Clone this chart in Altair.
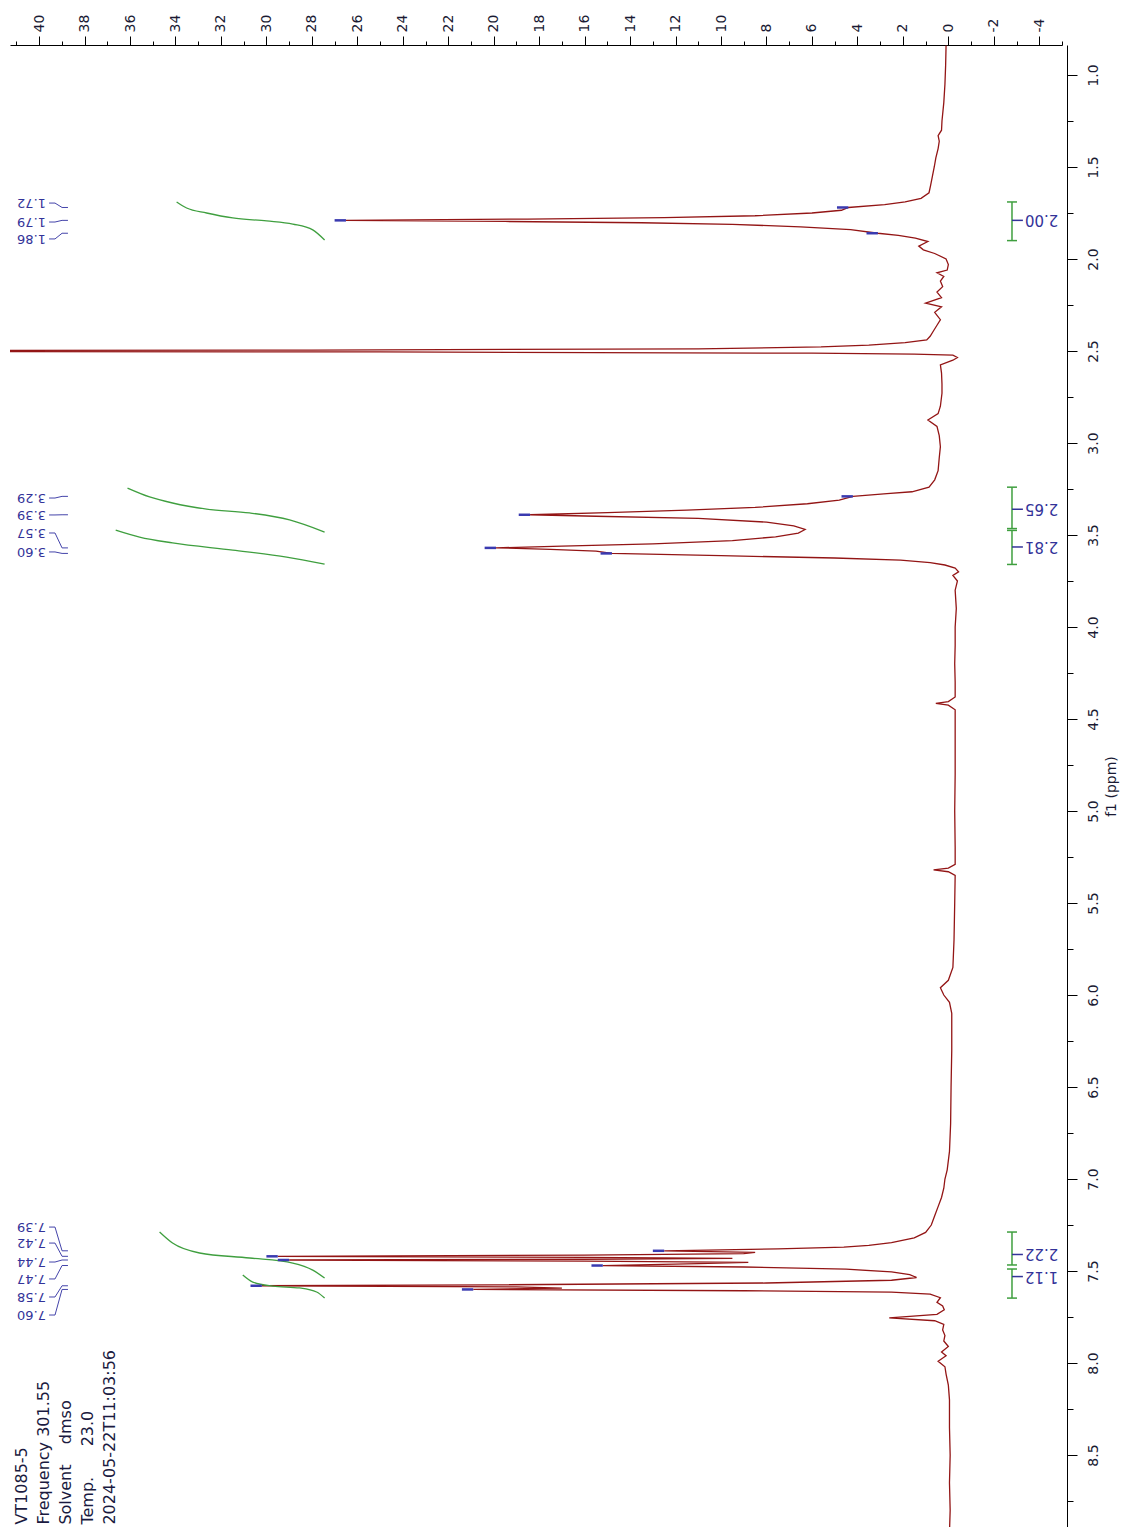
import altair as alt
import pandas as pd

# ---------------- data ----------------
spec_ppm = [0.84, 0.95, 1.05, 1.15, 1.25, 1.30, 1.33, 1.36, 1.40, 1.45, 1.50, 1.55, 1.60, 1.64, 1.67,
            1.69, 1.705, 1.72, 1.735, 1.75, 1.765, 1.775, 1.783, 1.79, 1.796, 1.803, 1.812, 1.825, 1.84,
            1.86, 1.872, 1.886, 1.905, 1.93, 1.95, 1.97, 2.00, 2.03, 2.06, 2.075, 2.095, 2.12, 2.15, 2.18,
            2.21, 2.24, 2.26, 2.29, 2.33, 2.36, 2.39, 2.42, 2.44, 2.455, 2.468, 2.478, 2.488, 2.495, 2.50,
            2.505, 2.512, 2.517, 2.522, 2.535, 2.55, 2.575, 2.62, 2.68, 2.73, 2.80, 2.84, 2.875, 2.91,
            2.96, 3.02, 3.08, 3.15, 3.20, 3.24, 3.265, 3.275, 3.29, 3.31, 3.33, 3.35, 3.365, 3.378, 3.39,
            3.398, 3.41, 3.43, 3.45, 3.47, 3.49, 3.51, 3.53, 3.548, 3.56, 3.57, 3.578, 3.588, 3.60, 3.612,
            3.625, 3.637, 3.65, 3.663, 3.68, 3.70, 3.72, 3.75, 3.80, 3.90, 4.00, 4.10, 4.20, 4.30, 4.38,
            4.405, 4.415, 4.425, 4.45, 4.60, 4.80, 5.00, 5.20, 5.29, 5.31, 5.32, 5.33, 5.35, 5.50, 5.70,
            5.85, 5.92, 5.96, 6.00, 6.04, 6.10, 6.30, 6.50, 6.70, 6.85, 6.95, 7.00, 7.05, 7.10, 7.15, 7.20,
            7.25, 7.29, 7.32, 7.345, 7.36, 7.37, 7.38, 7.39, 7.398, 7.405, 7.413, 7.42, 7.426, 7.431,
            7.436, 7.44, 7.446, 7.453, 7.46, 7.47, 7.478, 7.49, 7.505, 7.52, 7.535, 7.55, 7.565, 7.575,
            7.58, 7.586, 7.593, 7.60, 7.607, 7.615, 7.625, 7.645, 7.67, 7.69, 7.71, 7.735, 7.755, 7.77,
            7.79, 7.82, 7.85, 7.88, 7.91, 7.94, 7.96, 7.99, 8.02, 8.06, 8.12, 8.20, 8.35, 8.50, 8.65,
            8.80, 8.92]
spec_int = [0.10, 0.12, 0.15, 0.20, 0.28, 0.30, 0.45, 0.40, 0.45, 0.55, 0.62, 0.70, 0.78, 0.85, 1.2,
            1.9, 2.8, 4.4, 4.7, 6.0, 8.5, 12.5, 18.5, 26.5, 19.5, 13.5, 9.5, 6.5, 4.3,
            3.1, 2.2, 1.45, 0.9, 1.3, 1.1, 0.6, 0.1, 0.0, 0.05, 0.5, 0.2, 0.35, 0.25, 0.5,
            0.3, 1.0, 0.3, 0.6, 0.35, 0.5, 0.65, 0.8, 0.95, 1.9, 3.5, 5.6, 11.0, 28.0, 70.0,
            25.0, 6.0, 1.5, -0.2, -0.4, -0.2, 0.35, 0.3, 0.28, 0.28, 0.35, 0.45, 0.9, 0.5,
            0.4, 0.35, 0.4, 0.45, 0.6, 0.85, 1.6, 2.7, 4.2, 4.8, 6.2, 8.5, 11.5, 15.0, 18.4,
            15.5, 11.0, 8.0, 6.8, 6.3, 6.6, 7.6, 9.5, 13.0, 17.0, 19.9, 17.5, 15.5, 14.8, 10.0,
            5.0, 2.1, 0.8, 0.15, -0.3, -0.45, -0.2, -0.4, -0.3, -0.35, -0.3, -0.3, -0.28, -0.3, -0.3,
            0.0, 0.55, 0.0, -0.3, -0.3, -0.3, -0.28, -0.3, -0.3, 0.0, 0.65, 0.0, -0.3, -0.28, -0.25,
            -0.2, 0.0, 0.35, 0.2, -0.05, -0.15, -0.15, -0.12, -0.1, -0.05, 0.05, 0.15, 0.2, 0.3, 0.45, 0.6,
            0.75, 1.0, 1.5, 2.5, 3.5, 4.6, 7.5, 12.5, 8.5, 9.0, 16.0, 29.5, 16.0, 9.5,
            16.0, 29.0, 16.0, 8.8, 11.0, 15.2, 9.0, 4.5, 2.5, 1.7, 1.4, 2.5, 8.0, 20.0,
            30.2, 19.0, 17.0, 20.9, 9.0, 2.5, 0.8, 0.35, 0.5, 0.25, 0.18, 0.5, 2.6, 0.6,
            0.2, 0.25, 0.15, 0.2, 0.0, 0.3, 0.1, 0.45, 0.15, 0.1, 0.0, -0.05, -0.05, -0.08, -0.05,
            -0.08, -0.05]

peak_text = ["1.72", "1.79", "1.86", "3.29", "3.39", "3.57", "3.60",
             "7.39", "7.42", "7.44", "7.47", "7.58", "7.60"]
peak_ppm = [1.72, 1.79, 1.86, 3.29, 3.39, 3.57, 3.60, 7.39, 7.42, 7.44, 7.47, 7.58, 7.60]
peak_int = [4.4, 26.5, 3.1, 4.2, 18.4, 19.9, 14.8, 12.5, 29.5, 29.0, 15.2, 30.2, 20.9]
peak_label_ppm = [1.696, 1.799, 1.891, 3.299, 3.391, 3.489, 3.592,
                  7.261, 7.348, 7.451, 7.543, 7.641, 7.739]

integ_from = [1.69, 3.24, 3.475, 7.288, 7.489]
integ_to = [1.90, 3.465, 3.66, 7.467, 7.647]
integ_value = ["2.00", "2.65", "2.81", "2.22", "1.12"]
integ_label_ppm = [1.79, 3.36, 3.565, 7.41, 7.53]

ic1_ppm = [1.690, 1.723, 1.750, 1.777, 1.793, 1.810, 1.842, 1.897]
ic1_val = [33.95, 33.51, 32.63, 31.48, 29.99, 28.84, 27.96, 27.44]
ic2_ppm = [3.245, 3.293, 3.326, 3.359, 3.380, 3.418, 3.484]
ic2_val = [36.11, 35.14, 34.13, 32.63, 30.74, 28.98, 27.44]
ic3_ppm = [3.473, 3.511, 3.543, 3.582, 3.620, 3.658]
ic3_val = [36.63, 35.58, 34.13, 31.48, 29.11, 27.44]
ic4_ppm = [7.288, 7.348, 7.402, 7.429, 7.457, 7.495, 7.538]
ic4_val = [34.70, 34.13, 32.94, 30.74, 28.84, 27.96, 27.44]
ic5_ppm = [7.522, 7.560, 7.582, 7.592, 7.614, 7.647]
ic5_val = [31.04, 30.60, 29.72, 28.54, 27.79, 27.44]

meta_lines = ["VT1085-5", "Frequency 301.55", "Solvent\u00a0\u00a0\u00a0\u00a0dmso",
              "Temp.\u00a0\u00a0\u00a0\u00a0\u00a0\u00a023.0", "2024-05-22T11:03:56"]

x_major = list(range(-4, 41, 2))
x_minor = list(range(-5, 42, 2))
y_major = [1.0 + 0.5 * i for i in range(16)]
y_minor = [1.25 + 0.5 * i for i in range(16)]

# ---------------- layout constants (intensity / ppm units) ----------------
LABEL_X = 39.70
CONN_X = [39.56, 39.30, 38.99, 38.73]
MARK_LEN = 0.5
BRACKET_X = -2.80
CAP_L, CAP_R = -2.58, -3.02
TICK_END = -3.28
INT_LABEL_X = -3.37
META_X0, META_DX, META_Y = 40.75, -0.968, 8.878

SPEC_COLOR = "#931515"
BLUE = "#333399"
GREEN = "#3f9f3f"
FONT = "DejaVu Sans"

xs = alt.Scale(domain=[-5.0, 41.28], reverse=True, nice=False, zero=False)
ys = alt.Scale(domain=[0.837, 8.891], reverse=True, nice=False, zero=False)

# ---------------- frames ----------------
df_spec = pd.DataFrame({"ppm": spec_ppm, "val": spec_int, "idx": list(range(len(spec_ppm)))})

conn_rows = []
for i, (t, pp, lp) in enumerate(zip(peak_text, peak_ppm, peak_label_ppm)):
    for k, (cx, cy) in enumerate(zip(CONN_X, [lp, lp, pp, pp])):
        conn_rows.append({"g": t, "k": k, "x": cx, "ppm": cy})
df_conn = pd.DataFrame(conn_rows)

df_peaks = pd.DataFrame({"t": peak_text, "ppm": peak_ppm, "x": peak_int,
                         "x2": [v + MARK_LEN for v in peak_int],
                         "lp": peak_label_ppm, "lx": [LABEL_X] * len(peak_text)})

ic_rows = []
for gid, (pp, vv) in enumerate([(ic1_ppm, ic1_val), (ic2_ppm, ic2_val), (ic3_ppm, ic3_val),
                                (ic4_ppm, ic4_val), (ic5_ppm, ic5_val)]):
    for k, (p, v) in enumerate(zip(pp, vv)):
        ic_rows.append({"g": gid, "k": k, "ppm": p, "val": v})
df_ic = pd.DataFrame(ic_rows)

df_int = pd.DataFrame({"f": integ_from, "t": integ_to, "lab": integ_value, "lp": integ_label_ppm,
                       "bx": [BRACKET_X] * 5, "tx": [TICK_END] * 5, "lx": [INT_LABEL_X] * 5})
caps = sorted(set(integ_from + integ_to))
df_caps = pd.DataFrame({"ppm": caps, "a": [CAP_L] * len(caps), "b": [CAP_R] * len(caps)})

df_meta = pd.DataFrame({"txt": meta_lines,
                        "x": [META_X0 + META_DX * i for i in range(len(meta_lines))],
                        "ppm": [META_Y] * len(meta_lines)})

# ---------------- axes ----------------
ax_x = alt.Axis(orient="top", values=x_major, labelAngle=270, labelAlign="left",
                labelBaseline="middle", tickSize=9, labelPadding=4, labelFont=FONT,
                labelFontSize=14, labelColor="#1a1a33", domainColor="black", tickColor="black",
                grid=False, title=None, labelOverlap=False, labelFlush=False,
                labelExpr="datum.value < 0 ? '-' + abs(datum.value) : '' + datum.value")
ax_x_minor = alt.Axis(orient="top", values=x_minor, labels=False, tickSize=4, domain=False,
                      tickColor="black", grid=False, title=None)
ax_y = alt.Axis(orient="right", values=y_major, format=".1f", labelAngle=270, labelAlign="center",
                labelBaseline="top", tickSize=10, labelPadding=9, offset=5, labelFont=FONT,
                labelFontSize=14, labelColor="#1a1a33", domainColor="black", tickColor="black",
                grid=False, labelOverlap=False, labelFlush=False, title="f1 (ppm)",
                titleAngle=270, titleBaseline="top", titleFont=FONT, titleFontSize=14,
                titleFontWeight="normal", titleColor="#1a1a33", titlePadding=4)
ax_y_minor = alt.Axis(orient="right", values=y_minor, labels=False, tickSize=6, domain=False,
                      offset=5, tickColor="black", grid=False, title=None)

# ---------------- layers ----------------
spectrum = alt.Chart(df_spec).mark_line(color=SPEC_COLOR, strokeWidth=1.3, clip=True).encode(
    x=alt.X("val:Q", scale=xs, axis=ax_x),
    y=alt.Y("ppm:Q", scale=ys, axis=ax_y),
    order="idx:Q")

minor = alt.Chart(df_spec.head(1)).mark_point(opacity=0).encode(
    x=alt.X("val:Q", scale=xs, axis=ax_x_minor),
    y=alt.Y("ppm:Q", scale=ys, axis=ax_y_minor))

markers = alt.Chart(df_peaks).mark_rule(color="#3a3ab0", strokeWidth=2.5).encode(
    x=alt.X("x:Q", scale=xs, axis=None), x2="x2:Q",
    y=alt.Y("ppm:Q", scale=ys, axis=None))

connectors = alt.Chart(df_conn).mark_line(color="#4444aa", strokeWidth=1).encode(
    x=alt.X("x:Q", scale=xs, axis=None),
    y=alt.Y("ppm:Q", scale=ys, axis=None),
    detail="g:N", order="k:Q")

peak_labels = alt.Chart(df_peaks).mark_text(angle=180, align="left", baseline="middle",
                                            font=FONT, fontSize=13, color=BLUE).encode(
    x=alt.X("lx:Q", scale=xs, axis=None),
    y=alt.Y("lp:Q", scale=ys, axis=None),
    text="t:N")

icurves = alt.Chart(df_ic).mark_line(color=GREEN, strokeWidth=1.3, interpolate="monotone").encode(
    x=alt.X("val:Q", scale=xs, axis=None),
    y=alt.Y("ppm:Q", scale=ys, axis=None),
    detail="g:N", order="k:Q")

bracket = alt.Chart(df_int).mark_rule(color=GREEN, strokeWidth=1.5).encode(
    x=alt.X("bx:Q", scale=xs, axis=None),
    y=alt.Y("f:Q", scale=ys, axis=None), y2="t:Q")

bcaps = alt.Chart(df_caps).mark_rule(color=GREEN, strokeWidth=1.5).encode(
    x=alt.X("a:Q", scale=xs, axis=None), x2="b:Q",
    y=alt.Y("ppm:Q", scale=ys, axis=None))

btick = alt.Chart(df_int).mark_rule(color=BLUE, strokeWidth=1.5).encode(
    x=alt.X("bx:Q", scale=xs, axis=None), x2="tx:Q",
    y=alt.Y("lp:Q", scale=ys, axis=None))

blabel = alt.Chart(df_int).mark_text(angle=180, align="right", baseline="middle",
                                     font=FONT, fontSize=15, color=BLUE).encode(
    x=alt.X("lx:Q", scale=xs, axis=None),
    y=alt.Y("lp:Q", scale=ys, axis=None),
    text="lab:N")

meta = alt.Chart(df_meta).mark_text(angle=270, align="left", baseline="middle",
                                    font=FONT, fontSize=16, color="#1a1a40").encode(
    x=alt.X("x:Q", scale=xs, axis=None),
    y=alt.Y("ppm:Q", scale=ys, axis=None),
    text="txt:N")

chart = alt.layer(spectrum, minor, icurves, connectors, markers, peak_labels,
                  bracket, bcaps, btick, blabel, meta).resolve_scale(
    x="shared", y="shared").resolve_axis(x="independent", y="independent").properties(
    width=1052, height=1482, autosize=alt.AutoSizeParams(type="none"),
    padding={"left": 2, "top": 37, "right": 58, "bottom": 0},
    background="white").configure_view(stroke=None)

chart.save("out.html", embed_options={"renderer": "svg", "actions": False})
